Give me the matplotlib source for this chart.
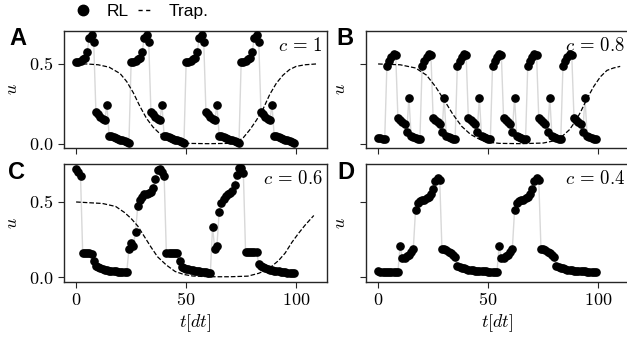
import numpy as np
import matplotlib.pyplot as plt
from matplotlib.lines import Line2D

plt.rcParams['mathtext.fontset'] = 'cm'
plt.rcParams['font.family'] = ['Liberation Sans', 'DejaVu Sans']

# time steps
t = np.arange(100)

# RL agent, c = 1
rl_a = [0.51, 0.515, 0.52, 0.53, 0.54, 0.575, 0.665, 0.68, 0.635,
        0.20, 0.185, 0.17, 0.158, 0.148, 0.245,
        0.052, 0.047, 0.042, 0.037, 0.032, 0.027, 0.022, 0.017, 0.012, 0.008,
        0.51, 0.515, 0.52, 0.53, 0.54, 0.575, 0.665, 0.68, 0.635,
        0.20, 0.185, 0.17, 0.158, 0.148, 0.245,
        0.052, 0.047, 0.042, 0.037, 0.032, 0.027, 0.022, 0.017, 0.012, 0.008,
        0.51, 0.515, 0.52, 0.53, 0.54, 0.575, 0.665, 0.68, 0.635,
        0.20, 0.185, 0.17, 0.158, 0.148, 0.245,
        0.052, 0.047, 0.042, 0.037, 0.032, 0.027, 0.022, 0.017, 0.012, 0.008,
        0.51, 0.515, 0.52, 0.53, 0.54, 0.575, 0.665, 0.68, 0.635,
        0.20, 0.185, 0.17, 0.158, 0.148, 0.245,
        0.052, 0.047, 0.042, 0.037, 0.032, 0.027, 0.022, 0.017, 0.012, 0.008]

# RL agent, c = 0.8
rl_b = [0.040, 0.037, 0.034, 0.031,
        0.49, 0.52, 0.545, 0.565, 0.555, 0.165, 0.152, 0.14, 0.128, 0.072, 0.29,
        0.048, 0.042, 0.037, 0.033, 0.030,
        0.49, 0.52, 0.545, 0.565, 0.555, 0.165, 0.152, 0.14, 0.128, 0.072, 0.29,
        0.048, 0.042, 0.037, 0.033, 0.030,
        0.49, 0.52, 0.545, 0.565, 0.555, 0.165, 0.152, 0.14, 0.128, 0.072, 0.29,
        0.048, 0.042, 0.037, 0.033, 0.030,
        0.49, 0.52, 0.545, 0.565, 0.555, 0.165, 0.152, 0.14, 0.128, 0.072, 0.29,
        0.048, 0.042, 0.037, 0.033, 0.030,
        0.49, 0.52, 0.545, 0.565, 0.555, 0.165, 0.152, 0.14, 0.128, 0.072, 0.29,
        0.048, 0.042, 0.037, 0.033, 0.030,
        0.49, 0.52, 0.545, 0.565, 0.555, 0.165, 0.152, 0.14, 0.128, 0.072, 0.29,
        0.048, 0.042, 0.037, 0.033, 0.030]

# RL agent, c = 0.6
rl_c = [0.72, 0.70, 0.675,
        0.158, 0.158, 0.158, 0.158, 0.156, 0.11,
        0.075, 0.065, 0.058, 0.053, 0.049, 0.046, 0.043, 0.041, 0.039, 0.037,
        0.035, 0.034, 0.033, 0.032, 0.031,
        0.185, 0.23, 0.21, 0.30, 0.47, 0.51, 0.535, 0.55, 0.555, 0.56, 0.565,
        0.59, 0.655, 0.71, 0.72, 0.70, 0.675,
        0.162, 0.162, 0.162, 0.162, 0.162, 0.16, 0.105,
        0.07, 0.062, 0.056, 0.051, 0.047, 0.044, 0.041, 0.039, 0.037, 0.035,
        0.033, 0.031, 0.030, 0.029,
        0.335, 0.185, 0.21, 0.435, 0.49, 0.52, 0.54, 0.55, 0.56, 0.57, 0.615,
        0.68, 0.725, 0.725, 0.69,
        0.165, 0.165, 0.165, 0.165, 0.165, 0.165, 0.09,
        0.073, 0.065, 0.058, 0.053, 0.049, 0.045, 0.042, 0.039, 0.037, 0.035,
        0.033, 0.031, 0.030, 0.029, 0.028, 0.027]

# RL agent, c = 0.4
rl_d = [0.037, 0.036, 0.036, 0.035, 0.035, 0.035, 0.034, 0.034, 0.034, 0.034,
        0.21, 0.125, 0.13, 0.14, 0.15, 0.165, 0.19,
        0.445, 0.49, 0.505, 0.51, 0.515, 0.525, 0.535, 0.55, 0.585, 0.64, 0.66, 0.645,
        0.19, 0.185, 0.178, 0.17, 0.16, 0.15, 0.135,
        0.075, 0.068, 0.062, 0.057, 0.053, 0.05, 0.047, 0.045, 0.043, 0.041,
        0.04, 0.039, 0.038, 0.037, 0.036, 0.035, 0.034, 0.034, 0.033,
        0.21, 0.125, 0.13, 0.14, 0.15, 0.165, 0.19,
        0.445, 0.49, 0.505, 0.51, 0.515, 0.525, 0.535, 0.55, 0.585, 0.64, 0.66, 0.645,
        0.19, 0.185, 0.178, 0.17, 0.16, 0.15, 0.135,
        0.075, 0.068, 0.062, 0.057, 0.053, 0.05, 0.047, 0.045, 0.043, 0.041,
        0.04, 0.039, 0.038, 0.037, 0.036, 0.035, 0.034, 0.033, 0.032]

# trapezoidal reference profiles
trap_a_t = [0, 5, 10, 15, 20, 23, 26, 29, 32, 35, 38, 42, 46, 50, 60, 70,
            73, 76, 79, 82, 85, 88, 91, 94, 97, 100, 104, 109]
trap_a_u = [0.5, 0.5, 0.495, 0.48, 0.44, 0.39, 0.32, 0.235, 0.16, 0.105, 0.065,
            0.03, 0.012, 0.004, 0.002, 0.004, 0.012, 0.04, 0.09, 0.15, 0.22,
            0.31, 0.38, 0.43, 0.465, 0.485, 0.495, 0.5]
trap_b_t = [0, 10, 17, 22, 26, 30, 34, 38, 42, 46, 50, 55, 65, 75, 80, 83, 87,
            90, 92, 95, 98, 101, 104, 107, 110]
trap_b_u = [0.5, 0.495, 0.475, 0.43, 0.36, 0.275, 0.185, 0.11, 0.06, 0.03,
            0.012, 0.004, 0.002, 0.006, 0.02, 0.04, 0.09, 0.15, 0.2, 0.285,
            0.36, 0.42, 0.46, 0.475, 0.485]
trap_c_t = [0, 12, 18, 22, 25, 28, 31, 34, 37, 41, 45, 49, 53, 60, 70, 78, 83,
            86, 89, 92, 95, 98, 101, 104, 108]
trap_c_u = [0.5, 0.49, 0.47, 0.43, 0.39, 0.34, 0.27, 0.2, 0.135, 0.08, 0.037,
            0.017, 0.007, 0.002, 0.002, 0.006, 0.025, 0.045, 0.073, 0.11, 0.16,
            0.23, 0.29, 0.345, 0.41]

letters = ['A', 'B', 'C', 'D']
c_labels = [r'$c\,=\,1$', r'$c\,=\,0.8$', r'$c\,=\,0.6$', r'$c\,=\,0.4$']
rl_all = [rl_a, rl_b, rl_c, rl_d]
trap_all = [(trap_a_t, trap_a_u), (trap_b_t, trap_b_u), (trap_c_t, trap_c_u), None]

W, H = 627, 344
fig = plt.figure(figsize=(W / 100, H / 100), dpi=100)


def box(l, r, top, bot):
    return [l / W, 1 - bot / H, (r - l) / W, (bot - top) / H]


boxes = [box(64, 327, 31, 148), box(366, 629, 31, 148),
         box(64, 327, 164, 282), box(366, 629, 164, 282)]
ylims = [(-0.025, 0.706), (-0.025, 0.706), (-0.033, 0.753), (-0.033, 0.753)]
letter_pos = [(9, 27), (336, 27), (8, 161), (337, 161)]

for i in range(4):
    ax = fig.add_axes(boxes[i])
    ax.plot(t, rl_all[i], color='#d8d8d8', lw=1, zorder=1)
    ax.plot(t, rl_all[i], 'o', color='k', ms=5.2, zorder=3)
    if trap_all[i] is not None:
        ax.plot(trap_all[i][0], trap_all[i][1], '--', color='k', lw=0.9, zorder=2)
    ax.set_xlim(-5.5, 114)
    ax.set_ylim(*ylims[i])
    ax.set_xticks([0, 50, 100], ['$0$', '$50$', '$100$'])
    ax.set_yticks([0, 0.5], ['$0.0$', '$0.5$'])
    ax.tick_params(direction='out', length=4, width=0.8, color='0.15', labelsize=13)
    for s in ax.spines.values():
        s.set_color('0.15')
        s.set_linewidth(1)
    if i < 2:
        ax.tick_params(labelbottom=False)
    else:
        ax.set_xlabel('$t[dt]$', fontsize=13, labelpad=2)
    if i % 2 == 1:
        ax.tick_params(labelleft=False)
        ax.set_ylabel('$u$', fontsize=13, labelpad=8)
    else:
        ax.set_ylabel('$u$', fontsize=13, labelpad=6)
    ax.text(0.985, 0.95, c_labels[i], transform=ax.transAxes, ha='right', va='top', fontsize=13.5)
    fig.text(letter_pos[i][0] / W, 1 - letter_pos[i][1] / H, letters[i],
             fontsize=17, fontweight='bold', ha='left', va='top')

handles = [Line2D([], [], marker='o', color='k', ls='none', ms=7.5, label='RL'),
           Line2D([], [], color='k', ls=(0, (3, 2.5)), lw=1, label='Trap.')]
fig.legend(handles=handles, loc='upper left', bbox_to_anchor=(60 / W, 1.035), ncol=2,
           frameon=False, fontsize=12.5, handlelength=0.8, handletextpad=1.0,
           columnspacing=0.5)

fig.savefig('out.png', dpi=100)
